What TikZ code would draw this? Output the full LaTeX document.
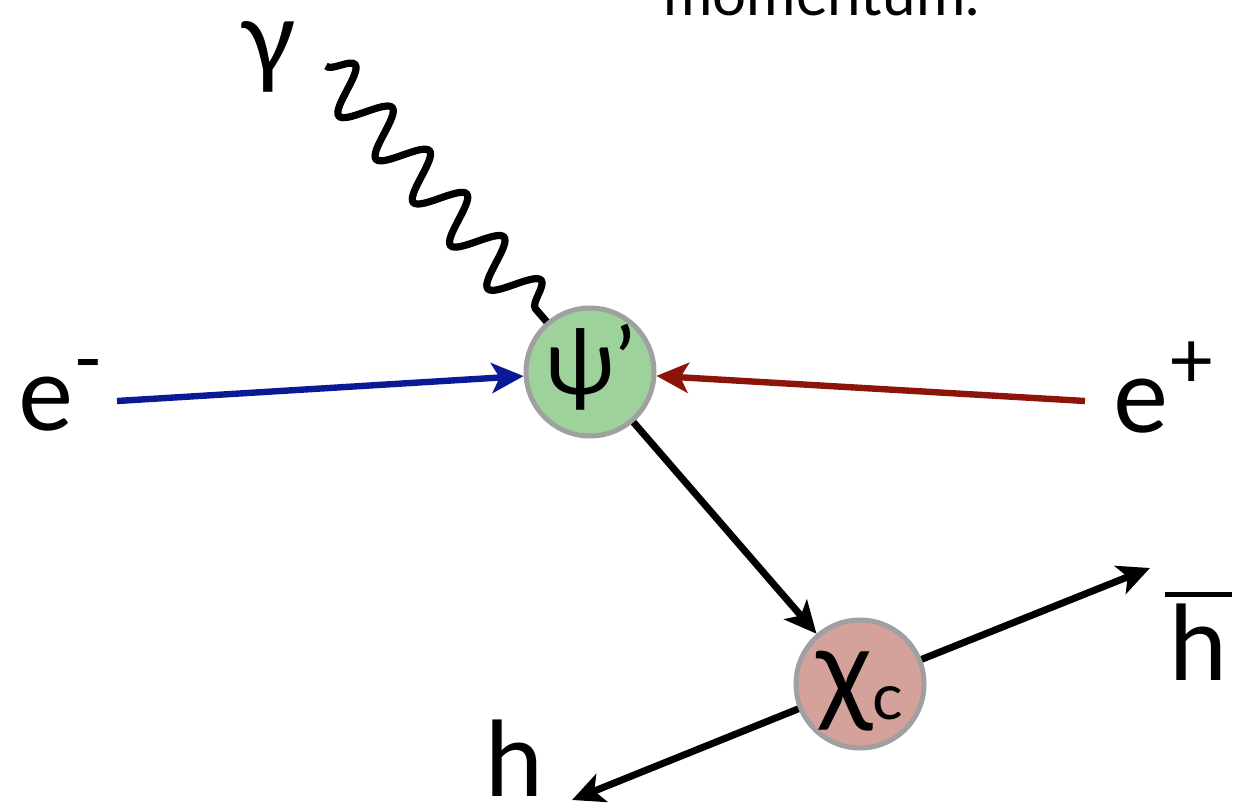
\documentclass[tikz,border=0pt]{standalone}
\usepackage{fontspec}
\setmainfont{Lato}
\usetikzlibrary{arrows.meta,decorations.pathmorphing}
\definecolor{psifill}{RGB}{157,211,155}
\definecolor{chifill}{RGB}{212,161,155}
\definecolor{ringgray}{RGB}{160,160,160}
\definecolor{eblue}{RGB}{10,26,150}
\definecolor{ered}{RGB}{140,20,8}
\tikzset{
  particle/.style={circle, draw=ringgray, line width=2.5pt, minimum size=64pt, inner sep=0pt},
  biglabel/.style={inner sep=0pt, font=\fontsize{52}{60}\selectfont},
  tip/.style={-{Stealth[length=16pt,width=15pt,inset=4pt]}},
  fermion/.style={line width=3.2pt, tip},
  meson/.style={line width=3.5pt, tip, black},
  photon/.style={line width=3.6pt, decorate, decoration={snake, segment length=28.5pt, amplitude=11.5pt}}
}
\begin{document}
\begin{tikzpicture}[x=0.5pt,y=-0.5pt]
\useasboundingbox (0,0) rectangle (1241,808);
\clip (0,0) rectangle (1241,808);
% header text (cut off)
\node[anchor=base west, inner sep=0pt, font=\fontsize{30}{36}\selectfont] (mom) at (663,16) {momentum.};
% particles
\node[particle, fill=psifill, font=\fontsize{46}{48}\selectfont, text height=30pt, text depth=8pt] (psi) at (590,372) {ψ’};
\node[particle, fill=chifill, font=\fontsize{58}{60}\selectfont, text height=34pt, text depth=8pt] (chi) at (860,684) {χ\raisebox{-4.5pt}{\fontsize{32}{34}\selectfont c}};
% labels
\node[biglabel, anchor=base west] (em) at (18,430) {e\raisebox{22pt}{\fontsize{40}{40}\selectfont -}};
\node[biglabel, anchor=base west] (ep) at (1113,432) {e\raisebox{22pt}{\fontsize{40}{40}\selectfont +}};
\node[biglabel] (gam) at (268,57) {γ};
\node[biglabel, anchor=base] (hb) at (1198,680) {h};
\draw[line width=2.5pt] (1165,594) -- (1232,594);
\node[biglabel, anchor=base] (h) at (515,796) {h};
% coordinates
\coordinate (emstart) at (117,401);
\coordinate (epstart) at (1085,401);
\coordinate (gstart) at (326,66);
\coordinate (hbtip) at (1150,568);
\coordinate (htip) at (572,800);
% connectors
\draw[fermion, eblue] (emstart) -- (psi);
\draw[fermion, ered] (epstart) -- (psi);
\draw[photon] (gstart) -- (psi);
\draw[meson] (psi) -- (chi);
\draw[meson] (chi) -- (hbtip);
\draw[meson] (chi) -- (htip);
\end{tikzpicture}
\end{document}
